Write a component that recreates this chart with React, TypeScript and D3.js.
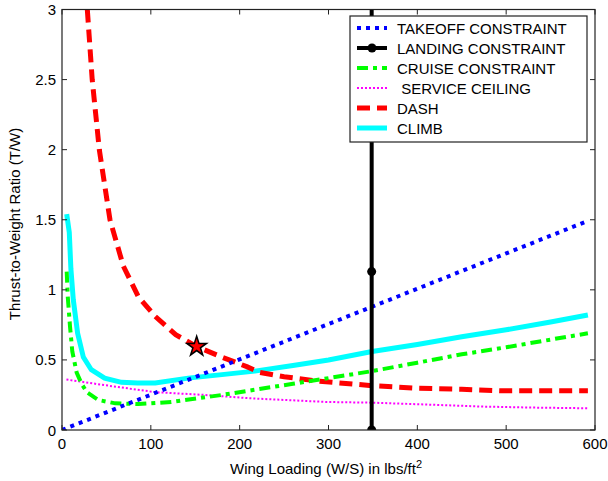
import React from "react";
import * as d3 from "d3";

// ---- data ----
const takeoffW = [0, 50, 100, 150, 200, 250, 300, 350, 400, 450, 500, 550, 590];
const takeoffTW = [0, 0.126, 0.252, 0.378, 0.504, 0.63, 0.756, 0.882, 1.008, 1.134, 1.26, 1.386, 1.487];

const landingW = [348.6, 348.6, 348.6, 348.6];
const landingTW = [0, 1.13, 2.26, 3.39];

const cruiseW = [5.3, 6.5, 9, 11.6, 16.5, 22, 28, 41, 60, 86, 123, 180, 215, 260, 300, 349, 400, 450, 500, 550, 592];
const cruiseTW = [1.13, 0.95, 0.74, 0.56, 0.41, 0.33, 0.27, 0.214, 0.19, 0.185, 0.2, 0.25, 0.285, 0.33, 0.37, 0.42, 0.48, 0.54, 0.59, 0.645, 0.69];

const ceilingW = [5, 48, 105, 161, 212, 298, 349, 418, 474, 530, 592];
const ceilingTW = [0.36, 0.32, 0.27, 0.25, 0.226, 0.2, 0.195, 0.18, 0.167, 0.16, 0.155];

const dashW = [28.5, 34, 42, 54, 69, 86, 105, 128, 151.6, 180, 208, 223, 250, 287, 349, 399, 450, 493, 592];
const dashTW = [3.0, 2.5, 2.0, 1.5, 1.17, 0.95, 0.81, 0.68, 0.595, 0.52, 0.452, 0.41, 0.38, 0.35, 0.316, 0.298, 0.29, 0.28, 0.28];

const climbW = [5.3, 8.2, 10, 12.7, 17.6, 24, 33, 48, 67, 85, 105, 142, 180, 217, 260, 300, 349, 400, 450, 500, 550, 592];
const climbTW = [1.54, 1.41, 1.15, 0.93, 0.69, 0.52, 0.43, 0.37, 0.34, 0.335, 0.335, 0.37, 0.395, 0.42, 0.46, 0.5, 0.56, 0.61, 0.665, 0.715, 0.77, 0.82];

const designPoint = [151.6, 0.595];

const xTicks = [0, 100, 200, 300, 400, 500, 600];
const yTicks = [0, 0.5, 1, 1.5, 2, 2.5, 3];
const yTickLabels = ["0", "0.5", "1", "1.5", "2", "2.5", "3"];

const legendLabels = ["TAKEOFF CONSTRAINT", "LANDING CONSTRAINT", "CRUISE CONSTRAINT", " SERVICE CEILING", "DASH", "CLIMB"];

// ---- layout ----
const W = 608, H = 481;
const L = 62, R = 595, T = 9.5, B = 430;
const FONT = "Arial, 'Liberation Sans', Helvetica, sans-serif";

export default function App() {
  const x = d3.scaleLinear().domain([0, 600]).range([L, R]);
  const y = d3.scaleLinear().domain([0, 3]).range([B, T]);
  const line = (ws: number[], ts: number[]) =>
    d3.line<number>().x((_, i) => x(ws[i])).y((_, i) => y(ts[i]))(ws) || "";

  const series = [
    { d: line(takeoffW, takeoffTW), color: "#0000ff", w: 4, dash: "4,5" },
    { d: line(landingW, landingTW), color: "#000000", w: 4, dash: undefined },
    { d: line(cruiseW, cruiseTW), color: "#00ff00", w: 4, dash: "11,5,4,5" },
    { d: line(ceilingW, ceilingTW), color: "#ff00ff", w: 2, dash: "2,2" },
    { d: line(dashW, dashTW), color: "#ff0000", w: 5, dash: "13,7" },
    { d: line(climbW, climbTW), color: "#00ffff", w: 5, dash: undefined },
  ];
  const order = [5, 4, 3, 2, 0, 1];

  const star = d3.symbol().type(d3.symbolStar).size(120)() || "";

  const legX = 350, legY = 16, legW = 237, legH = 126;
  const rowY = (i: number) => 28 + i * 20;

  return (
    <div style={{ position: "absolute", left: 0, top: 0 }}>
      <svg width={W} height={H} style={{ display: "block", background: "#fff" }} fontFamily={FONT}>
        <defs>
          <clipPath id="plotclip">
            <rect x={L} y={T} width={R - L} height={B - T} />
          </clipPath>
        </defs>
        <rect x={0} y={0} width={W} height={H} fill="#fff" />
        <g clipPath="url(#plotclip)">
          {order.map((k) => (
            <path key={k} d={series[k].d} fill="none" stroke={series[k].color}
              strokeWidth={series[k].w} strokeDasharray={series[k].dash} />
          ))}
          {landingTW.map((t, i) => (
            <circle key={i} cx={x(landingW[i])} cy={y(t)} r={4.5} fill="#000" />
          ))}
          <path d={star} transform={`translate(${x(designPoint[0])},${y(designPoint[1])})`}
            fill="#ff0000" stroke="#000" strokeWidth={1.5} />
        </g>
        {/* axes box */}
        <rect x={L} y={T} width={R - L} height={B - T} fill="none" stroke="#222" strokeWidth={1.2} />
        {xTicks.map((t) => (
          <g key={"x" + t}>
            <line x1={x(t)} x2={x(t)} y1={B} y2={B - 5} stroke="#222" />
            <line x1={x(t)} x2={x(t)} y1={T} y2={T + 5} stroke="#222" />
            <text x={x(t)} y={449} fontSize={15} textAnchor="middle" fill="#000">{t}</text>
          </g>
        ))}
        {yTicks.map((t, i) => (
          <g key={"y" + t}>
            <line x1={L} x2={L + 5} y1={y(t)} y2={y(t)} stroke="#222" />
            <line x1={R} x2={R - 5} y1={y(t)} y2={y(t)} stroke="#222" />
            <text x={56} y={y(t) + 5.5} fontSize={15} textAnchor="end" fill="#000">{yTickLabels[i]}</text>
          </g>
        ))}
        <text x={326} y={474} fontSize={15} textAnchor="middle" fill="#000">
          Wing Loading (W/S) in lbs/ft<tspan dy={-6} fontSize={11}>2</tspan>
        </text>
        <text transform={`translate(20,224) rotate(-90)`} fontSize={15} textAnchor="middle" fill="#000">
          Thrust-to-Weight Ratio (T/W)
        </text>
        {/* legend */}
        <rect x={legX} y={legY} width={legW} height={legH} fill="#fff" stroke="#222" strokeWidth={1.2} />
        {legendLabels.map((lab, i) => (
          <g key={lab}>
            <line x1={357} x2={387} y1={rowY(i)} y2={rowY(i)} stroke={series[i].color}
              strokeWidth={series[i].w} strokeDasharray={series[i].dash} />
            {i === 1 && <circle cx={372} cy={rowY(i)} r={4.5} fill="#000" />}
            <text x={397} y={rowY(i) + 5.5} fontSize={15} fill="#000" style={{ whiteSpace: "pre" }}>{lab}</text>
          </g>
        ))}
      </svg>
    </div>
  );
}
